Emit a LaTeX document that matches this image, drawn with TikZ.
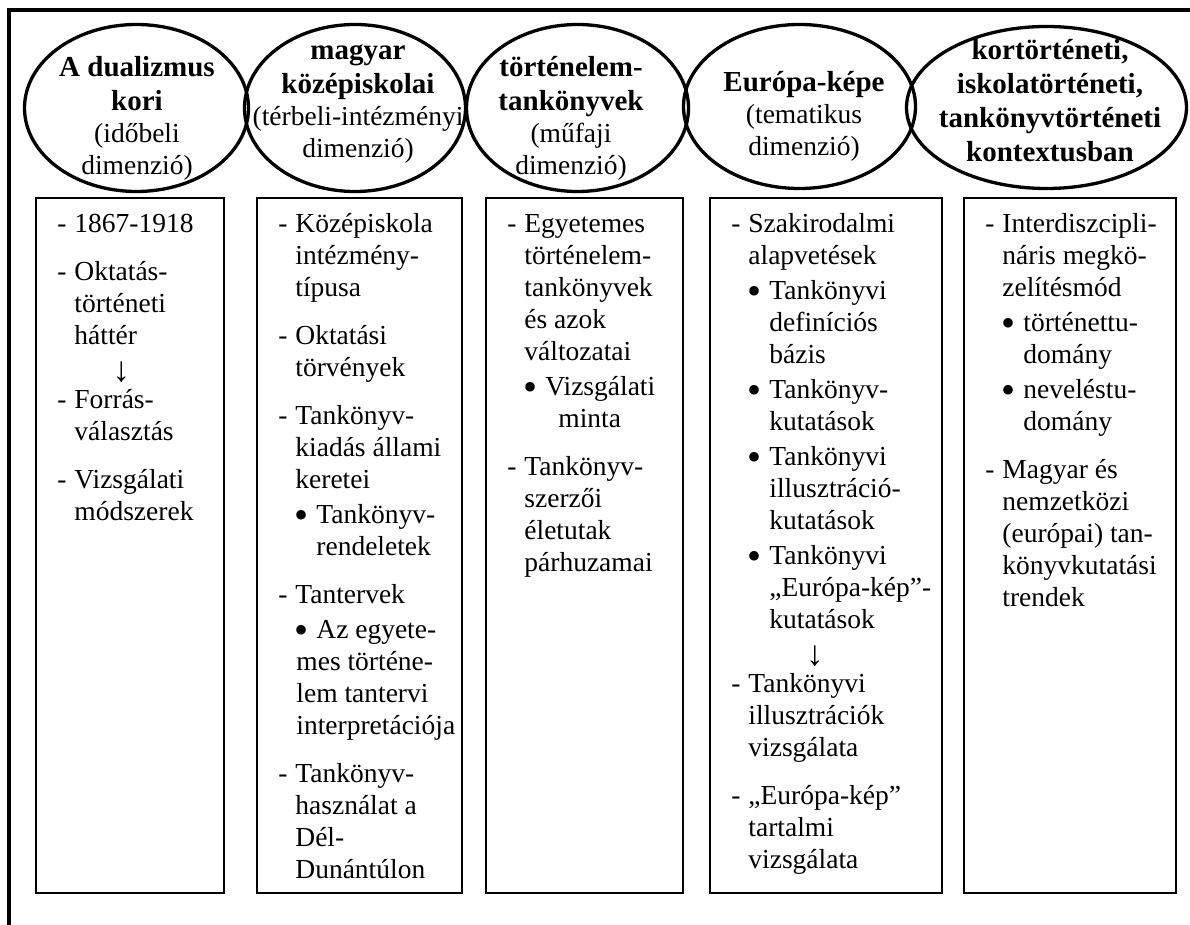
\documentclass[tikz,border=0pt]{standalone}
\usepackage{fontspec}
\setmainfont{Liberation Serif}
\usetikzlibrary{shapes.geometric}

\newcommand{\bodyfont}{\fontsize{27.5pt}{32pt}\selectfont}
\newcommand{\titlefont}{\fontsize{29pt}{34pt}\selectfont\bfseries}
% text columns of the boxes and the ovals
\newcommand{\panelbox}[2]{\parbox[t][695pt][t]{#1}{\leftskip=21.5pt\vspace*{12.6pt}#2}}
\newcommand{\headbox}[1]{\parbox[t]{300pt}{\centering #1}}
% list items
\newcommand{\ditem}[1][16pt]{\par\vspace{#1}\hangindent=17pt\hangafter=1\noindent\makebox[17pt][l]{\strut-}}
\newcommand{\bitem}{\par\vspace{3pt}\hangindent=38pt\hangafter=1\noindent\hspace*{16.5pt}%
  \makebox[21.5pt][l]{\strut\raisebox{-5pt}{\fontsize{40pt}{40pt}\selectfont •}}}
\newcommand{\arrowline}[1]{\par\noindent\hspace*{#1}\strut
  \makebox[0pt]{\raisebox{-5pt}[18pt][7pt]{\fontsize{35pt}{35pt}\selectfont ↓}}}

\begin{document}
\begin{tikzpicture}[x=1pt, y=-1pt,
    frameline/.style={line width=3.5pt},
    oval/.style={ellipse, draw, line width=3.3pt, inner sep=0pt},
    heading/.style={anchor=base, inner sep=0pt, font=\bodyfont},
    panel/.style={draw, line width=1.8pt, inner sep=0pt, anchor=north west, font=\bodyfont}]
    \useasboundingbox (0,0) rectangle (1190,925);
    % Outer frame
    \draw[frameline] (9,925) |- (1190,10);
    % Ovals
    \node[oval, minimum width=224pt, minimum height=167pt] (e-dual) at (136.5,108) {};
    \node[oval, minimum width=221pt, minimum height=167pt] (e-space) at (355,108) {};
    \node[oval, minimum width=222pt, minimum height=167pt] (e-genre) at (577.5,108) {};
    \node[oval, minimum width=232pt, minimum height=164pt] (e-theme) at (799.5,106.5) {};
    \node[oval, minimum width=280pt, minimum height=162pt] (e-context) at (1046.5,107.5) {};
    \node[heading] (h-dual) at (137,77)
         {\headbox{{\titlefont A dualizmus\\ kori\par}(időbeli\\ dimenzió)}};
    \node[heading] (h-space) at (358,60)
         {\headbox{{\titlefont magyar\\ középiskolai\par}(térbeli-intézményi\\ dimenzió)}};
    \node[heading] (h-genre) at (571,77)
         {\headbox{{\titlefont történelem-\\ tankönyvek\par}(műfaji\\ dimenzió)}};
    \node[heading] (h-theme) at (804,92)
         {\headbox{{\titlefont Európa-képe\par}(tematikus\\ dimenzió)}};
    \node[heading] (h-context) at (1050,60)
         {\headbox{{\titlefont kortörténeti,\\ iskolatörténeti,\\ tankönyvtörténeti\\ kontextusban\par}}};
    % Boxes
    \node[panel] (b-time) at (35,197) {\panelbox{188pt}{%
        \ditem[0pt]1867-1918
        \ditem Oktatás-\\ történeti\\ háttér
        \arrowline{64pt}
        \ditem[0pt]Forrás-\\ választás
        \ditem Vizsgálati\\ módszerek}};
    \node[panel] (b-space) at (256,197) {\panelbox{205pt}{%
        \ditem[0pt]Középiskola\\ intézmény-\\ típusa
        \ditem Oktatási\\ törvények
        \ditem Tankönyv-\\ kiadás állami\\ keretei
        \bitem Tankönyv-\\ rendeletek
        \ditem Tantervek
        \bitem Az egyete-\\ \hspace*{-20pt}mes történe-\\ \hspace*{-20pt}lem tantervi\\ \hspace*{-20pt}interpretációja
        \ditem Tankönyv-\\ használat a\\ Dél-\\ Dunántúlon}};
    \node[panel] (b-genre) at (485,197) {\panelbox{197pt}{%
        \ditem[0pt]Egyetemes\\ történelem-\\ tankönyvek\\ és azok\\ változatai
        \bitem Vizsgálati\\ \hspace*{13pt}minta
        \ditem Tankönyv-\\ szerzői\\ életutak\\ párhuzamai}};
    \node[panel] (b-theme) at (709,197) {\panelbox{232pt}{%
        \ditem[0pt]Szakirodalmi\\ alapvetések
        \bitem Tankönyvi\\ definíciós\\ bázis
        \bitem Tankönyv-\\ kutatások
        \bitem Tankönyvi\\ illusztráció-\\ kutatások
        \bitem Tankönyvi\\ „Európa-kép”-\\ kutatások
        \arrowline{83.5pt}
        \ditem[0pt]Tankönyvi\\ illusztrációk\\ vizsgálata
        \ditem „Európa-kép”\\ tartalmi\\ vizsgálata}};
    \node[panel] (b-context) at (963,197) {\panelbox{212pt}{%
        \ditem[0pt]Interdiszcipli-\\ náris megkö-\\ zelítésmód
        \bitem történettu-\\ domány
        \bitem neveléstu-\\ domány
        \ditem Magyar és\\ nemzetközi\\ (európai) tan-\\ könyvkutatási\\ trendek}};
\end{tikzpicture}
\end{document}
